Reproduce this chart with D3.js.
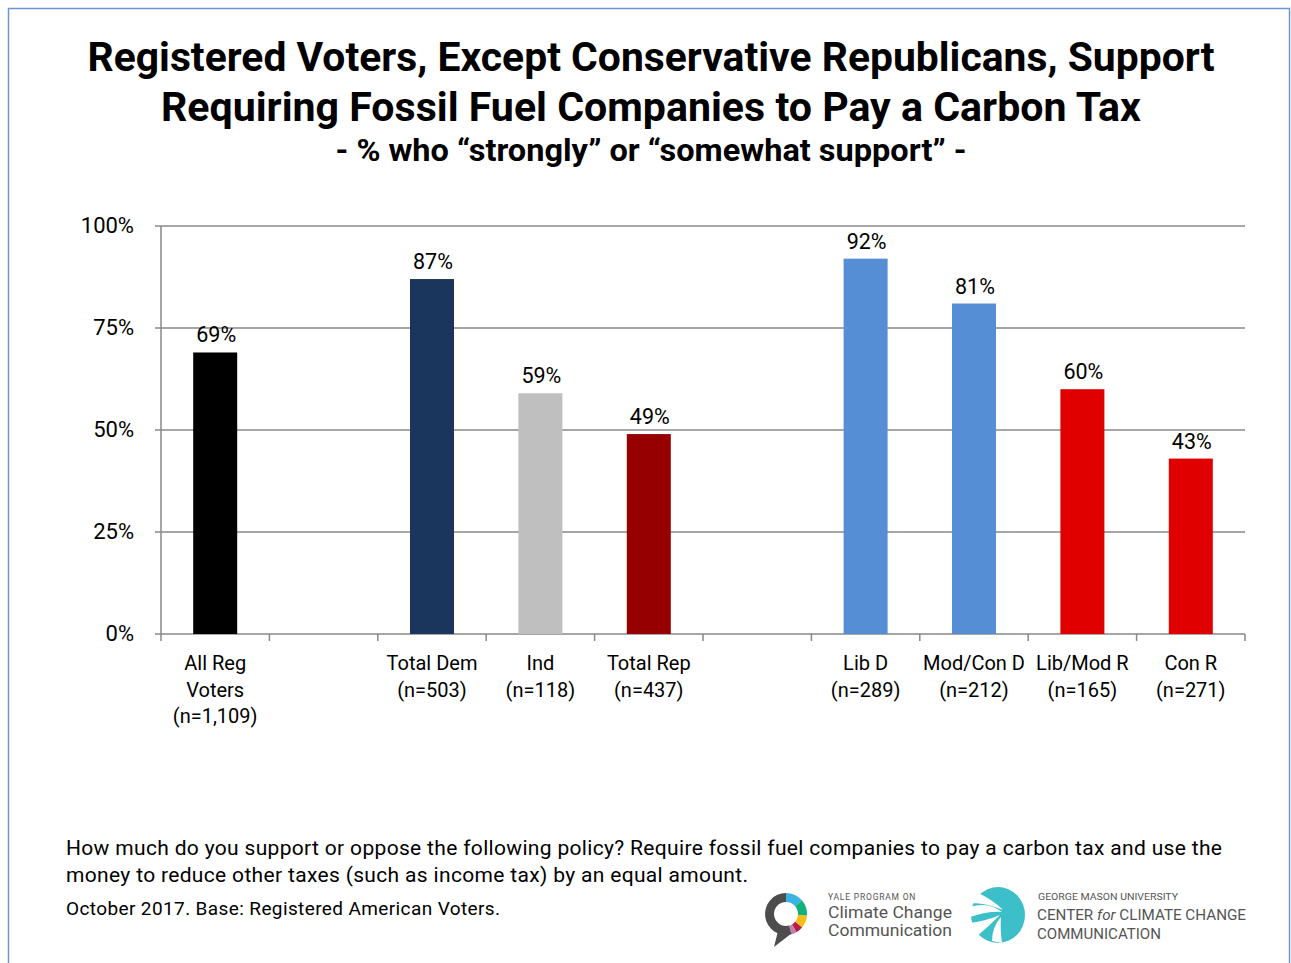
<!DOCTYPE html>
<html><head><meta charset="utf-8">
<script src="https://cdn.jsdelivr.net/npm/d3@7"></script>
<style>body{margin:0;background:#fff;font-family:Roboto,"Noto Sans",sans-serif}</style>
</head><body>
<svg id="c" width="1291" height="963"></svg>
<script>
const categories = ["All Reg|Voters|(n=1,109)", "", "Total Dem|(n=503)", "Ind|(n=118)", "Total Rep|(n=437)", " ", "Lib D|(n=289)", "Mod/Con D|(n=212)", "Lib/Mod R|(n=165)", "Con R|(n=271)"];
const values = [69, null, 87, 59, 49, null, 92, 81, 60, 43];
const barColors = ["#000000", null, "#1a365c", "#bfbfbf", "#960000", null, "#558ed5", "#558ed5", "#e00000", "#e00000"];
const yTicks = [0, 25, 50, 75, 100];

const svg = d3.select("#c");
svg.append("rect").attr("x",8.5).attr("y",8.5).attr("width",1281).attr("height",970)
  .attr("fill","none").attr("stroke","#6d95cf").attr("stroke-width",1.5);

const titleG = svg.append("g").attr("font-weight","bold").attr("text-anchor","middle").attr("fill","#000");
titleG.append("text").attr("x",651).attr("y",71).attr("font-size",41).attr("textLength",1127).attr("lengthAdjust","spacingAndGlyphs").text("Registered Voters, Except Conservative Republicans, Support");
titleG.append("text").attr("x",651).attr("y",121).attr("font-size",41).attr("textLength",980).attr("lengthAdjust","spacingAndGlyphs").text("Requiring Fossil Fuel Companies to Pay a Carbon Tax");
titleG.append("text").attr("x",651).attr("y",161).attr("font-size",32).attr("textLength",631).attr("lengthAdjust","spacingAndGlyphs").text("- % who \u201cstrongly\u201d or \u201csomewhat support\u201d -");

const x0 = 161, x1 = 1245, yb = 634, yt = 226;
const x = d3.scaleBand().domain(d3.range(categories.length)).range([x0, x1]).paddingInner(0).paddingOuter(0);
const y = d3.scaleLinear().domain([0,100]).range([yb, yt]);

// gridlines
svg.append("g").selectAll("line").data(yTicks).join("line")
  .attr("x1", x0-6).attr("x2", x1).attr("y1", d=>y(d)).attr("y2", d=>y(d))
  .attr("stroke","#898989").attr("stroke-width",1.5);
svg.append("g").selectAll("text").data(yTicks).join("text")
  .attr("x",134).attr("y",d=>y(d)+7).attr("text-anchor","end").attr("font-size",22).attr("fill","#000")
  .text(d=>d+"%");
svg.append("line").attr("x1",x0).attr("x2",x0).attr("y1",yt).attr("y2",yb).attr("stroke","#898989").attr("stroke-width",1.5);

// x ticks
svg.append("g").selectAll("line").data(d3.range(categories.length+1)).join("line")
  .attr("x1",i=>x0 + i*x.bandwidth()).attr("x2",i=>x0 + i*x.bandwidth())
  .attr("y1",yb).attr("y2",yb+7).attr("stroke","#898989").attr("stroke-width",1.5);

const bw = 44;
const data = categories.map((c,i)=>({c, v: values[i], col: barColors[i], i})).filter(d=>d.v!==null);
svg.append("g").selectAll("rect").data(data).join("rect")
  .attr("x", d=>x(d.i)+x.bandwidth()/2-bw/2).attr("width", bw)
  .attr("y", d=>y(d.v)).attr("height", d=>yb-y(d.v)).attr("fill", d=>d.col);
svg.append("g").selectAll("text").data(data).join("text")
  .attr("x", d=>x(d.i)+x.bandwidth()/2+1).attr("y", d=>y(d.v)-10)
  .attr("text-anchor","middle").attr("font-size",21.5).attr("fill","#000").text(d=>d.v+"%");

// category labels
const lab = svg.append("g").attr("font-size",20).attr("text-anchor","middle").attr("fill","#000");
categories.forEach((c,i)=>{
  if(!c.trim()) return;
  const t = lab.append("text").attr("x", x(i)+x.bandwidth()/2).attr("y", 670);
  c.split("|").forEach((s,k)=>t.append("tspan").attr("x", x(i)+x.bandwidth()/2).attr("dy", k?26.5:0).text(s));
});

// footnotes
const fn = svg.append("g").attr("fill","#000");
fn.append("text").attr("x",66).attr("y",855).attr("font-size",21).attr("textLength",1156).attr("lengthAdjust","spacing").text("How much do you support or oppose the following policy? Require fossil fuel companies to pay a carbon tax and use the");
fn.append("text").attr("x",66).attr("y",882).attr("font-size",21).attr("textLength",682).attr("lengthAdjust","spacing").text("money to reduce other taxes (such as income tax) by an equal amount.");
fn.append("text").attr("x",66).attr("y",915).attr("font-size",19).attr("textLength",434).attr("lengthAdjust","spacing").text("October 2017.  Base: Registered American Voters.");

// Yale logo
const yl = svg.append("g").attr("transform","translate(786,914)");
const arc = d3.arc().innerRadius(12).outerRadius(21);
const segs = [[0,50,"#3ab4e0"],[50,95,"#14b07a"],[95,130,"#f5be14"],[130,150,"#b81f45"],[150,165,"#c47bb0"],[165,360,"#4d4d4d"]];
segs.forEach(s=>yl.append("path").attr("d",arc({startAngle:s[0]*Math.PI/180,endAngle:s[1]*Math.PI/180})).attr("fill",s[2]));
yl.append("path").attr("d","M-8,17 L-12,33 L6,19 Z").attr("fill","#4d4d4d");
const yt2 = svg.append("g").attr("fill","#555");
yt2.append("text").attr("x",828).attr("y",900).attr("font-size",8.5).attr("letter-spacing",0.8).text("YALE PROGRAM ON");
yt2.append("text").attr("x",828).attr("y",918).attr("font-size",16).attr("textLength",124).attr("lengthAdjust","spacingAndGlyphs").text("Climate Change");
yt2.append("text").attr("x",828).attr("y",935.5).attr("font-size",16).attr("textLength",124).attr("lengthAdjust","spacingAndGlyphs").text("Communication");

// GMU logo
const gl = svg.append("g").attr("transform","translate(998,915)");
gl.append("ellipse").attr("rx",27).attr("ry",28).attr("fill","#3dbfc9");
gl.append("path").attr("d","M-28,-8 Q-10,-14 4,-3 Q-10,-4 -28,2 Z").attr("fill","#fff");
gl.append("path").attr("d","M-28,8 Q-12,6 2,0 Q-10,12 -22,22 Z").attr("fill","#fff");
gl.append("path").attr("d","M-6,26 Q-6,12 3,2 Q2,14 4,28 Z").attr("fill","#fff");
gl.append("path").attr("d","M-20,-22 Q-6,-16 5,-5 Q-12,-12 -26,-12 Z").attr("fill","#fff");
const gt = svg.append("g").attr("fill","#555");
gt.append("text").attr("x",1038).attr("y",900).attr("font-size",9).attr("textLength",140).attr("lengthAdjust","spacingAndGlyphs").text("GEORGE MASON UNIVERSITY");
const ct = gt.append("text").attr("x",1037).attr("y",920).attr("font-size",15.5).attr("textLength",209).attr("lengthAdjust","spacingAndGlyphs");
ct.append("tspan").text("CENTER ");
ct.append("tspan").attr("font-style","italic").text("for");
ct.append("tspan").text(" CLIMATE CHANGE");
gt.append("text").attr("x",1037).attr("y",939).attr("font-size",15.5).attr("textLength",124).attr("lengthAdjust","spacingAndGlyphs").text("COMMUNICATION");
</script>
</body></html>
